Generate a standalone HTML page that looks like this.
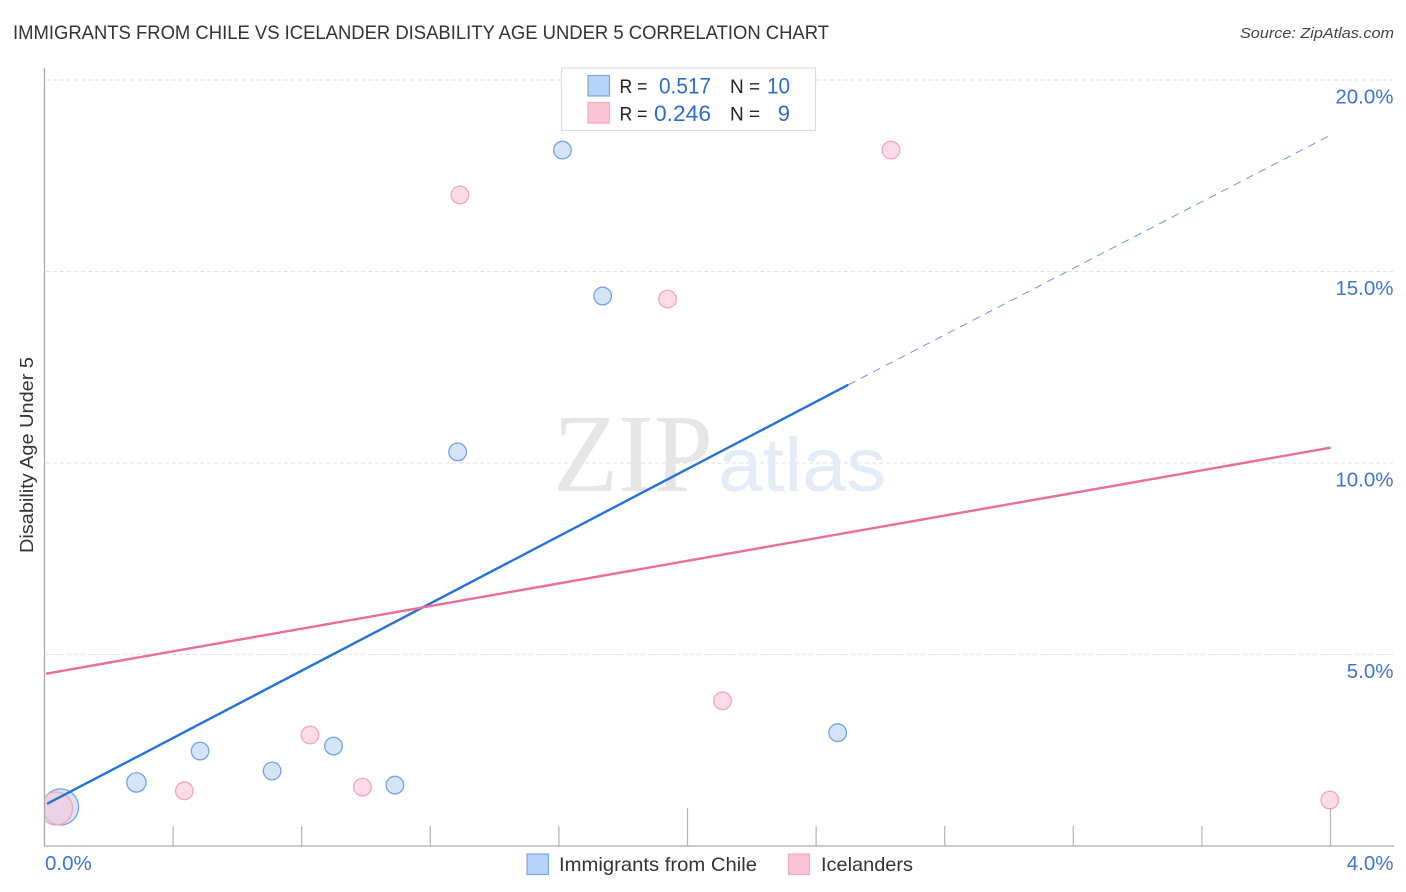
<!DOCTYPE html>
<html lang="en">
<head>
<meta charset="utf-8">
<title>Immigrants from Chile vs Icelander Disability Age Under 5 Correlation Chart</title>
<style>
html,body{margin:0;padding:0;background:#fff;}
svg{display:block;font-family:"Liberation Sans",sans-serif;}
</style>
</head>
<body>
<svg id="chart" xmlns="http://www.w3.org/2000/svg" width="1406" height="892" viewBox="0 0 1406 892">
  <rect x="0" y="0" width="1406" height="892" fill="#ffffff"/>
  <text x="13" y="39" font-size="19.5" fill="#333333" textLength="816" lengthAdjust="spacingAndGlyphs">IMMIGRANTS FROM CHILE VS ICELANDER DISABILITY AGE UNDER 5 CORRELATION CHART</text>
  <text x="1394" y="38" font-size="15" font-style="italic" fill="#444444" text-anchor="end" textLength="154" lengthAdjust="spacingAndGlyphs">Source: ZipAtlas.com</text>
  <g id="grid"></g>
  <g>
    <text x="553" y="491" font-family="'Liberation Serif',serif" font-size="111" fill="#e6e6e6" textLength="160" lengthAdjust="spacingAndGlyphs">ZIP</text>
    <text x="718" y="491" font-size="76" fill="#e3ecf9" textLength="168" lengthAdjust="spacingAndGlyphs">atlas</text>
  </g>
  <g id="points"></g>
  <g id="trends"></g>
  <rect x="0" y="770" width="44.5" height="70" fill="#ffffff"/>
  <g id="axes"></g>
  <g id="tick-labels"></g>
  <text transform="translate(33,455) rotate(-90)" font-size="18.5" fill="#333333" text-anchor="middle" textLength="196" lengthAdjust="spacingAndGlyphs">Disability Age Under 5</text>
  <g>
    <rect x="561.5" y="68" width="254" height="62.5" fill="#ffffff" stroke="#dcdcdc" stroke-width="1.2"/>
    <rect x="588" y="75.5" width="21.5" height="20.5" fill="#b7d3f7" stroke="#7ba7e2" stroke-width="1.2"/>
    <rect x="588" y="102.5" width="21.5" height="20.5" fill="#fcc5d6" stroke="#f3a9c0" stroke-width="1.2"/>
    <text x="619.5" y="93" font-size="19" fill="#222222" textLength="28" lengthAdjust="spacingAndGlyphs">R =</text>
    <text x="711" y="93.5" font-size="22" fill="#2f6bce" text-anchor="end" textLength="52" lengthAdjust="spacingAndGlyphs">0.517</text>
    <text x="730" y="93" font-size="19" fill="#222222">N =</text>
    <text x="790" y="93.5" font-size="22" fill="#2f6bce" text-anchor="end" textLength="23" lengthAdjust="spacingAndGlyphs">10</text>
    <text x="619.5" y="120.5" font-size="19" fill="#222222" textLength="28" lengthAdjust="spacingAndGlyphs">R =</text>
    <text x="711" y="121" font-size="22" fill="#2f6bce" text-anchor="end" textLength="57" lengthAdjust="spacingAndGlyphs">0.246</text>
    <text x="730" y="120.5" font-size="19" fill="#222222">N =</text>
    <text x="790" y="121" font-size="22" fill="#2f6bce" text-anchor="end">9</text>
  </g>
  <g>
    <rect x="527" y="854" width="21.5" height="20.5" fill="#b7d3f7" stroke="#7ba7e2" stroke-width="1.2"/>
    <text x="559" y="871" font-size="19.5" fill="#333333" textLength="198" lengthAdjust="spacingAndGlyphs">Immigrants from Chile</text>
    <rect x="788.5" y="854" width="21" height="20.5" fill="#fcc5d6" stroke="#f3a9c0" stroke-width="1.2"/>
    <text x="821" y="871" font-size="19.5" fill="#333333" textLength="92" lengthAdjust="spacingAndGlyphs">Icelanders</text>
  </g>
</svg>
<script>
// Chart data (percent values)
const yTickValues = [5, 10, 15, 20];
const yTickLabels = ['5.0%', '10.0%', '15.0%', '20.0%'];
const xTickValues = [0.4, 0.8, 1.2, 1.6, 2.0, 2.4, 2.8, 3.2, 3.6, 4.0];
const xMajorTicks = [2.0, 4.0];
const xEndLabels = ['0.0%', '4.0%'];
const xEndValues = [0, 4];

const chileX = [0.05, 0.286, 0.484, 0.708, 0.899, 1.09, 1.285, 1.611, 1.736, 2.467];
const chileY = [1.02, 1.66, 2.48, 1.96, 2.61, 1.59, 10.29, 18.17, 14.36, 2.96];
const chileWeight = [4.2, 1.2, 1, 1, 1, 1, 1, 1, 1, 1];

const icelandX = [0.036, 0.435, 0.826, 0.989, 1.292, 1.938, 2.109, 2.633, 3.998];
const icelandY = [0.98, 1.44, 2.9, 1.54, 17.0, 14.28, 3.79, 18.17, 1.2];
const icelandWeight = [3.5, 1, 1, 1, 1, 1, 1, 1, 1];

const chileTrendX = [0.008, 2.5];
const chileTrendY = [1.1, 12.04];
const chileDashX = [2.5, 4.0];
const chileDashY = [12.04, 18.56];
const icelandTrendX = [0.005, 4.0];
const icelandTrendY = [4.5, 10.4];

// Axis functions
const xPos = v => 44.5 + v * 321.5;
const yPos = v => 846 - v * 38.3;
const radius = w => 8.8 * Math.sqrt(w);

const NS = 'http://www.w3.org/2000/svg';
function make(parent, tag, attrs, text) {
  const el = document.createElementNS(NS, tag);
  for (const k in attrs) el.setAttribute(k, attrs[k]);
  if (text !== undefined) el.textContent = text;
  document.getElementById(parent).appendChild(el);
  return el;
}

// Gridlines
yTickValues.forEach(v => {
  const el = make('grid', 'line', {x1: 46, x2: 1393, y1: yPos(v), y2: yPos(v), stroke: '#e2e2e2', 'stroke-width': 1, 'stroke-dasharray': '4 3'});
  
  
});

// Axes
const yAxis = make('axes', 'line', {x1: 44.5, x2: 44.5, y1: 68, y2: 846.5, stroke: '#aaaaaa', 'stroke-width': 1.3});


const xAxis = make('axes', 'line', {x1: 44, x2: 1394, y1: 846, y2: 846, stroke: '#aaaaaa', 'stroke-width': 1.3});


xTickValues.forEach(v => {
  const top = xMajorTicks.includes(v) ? 808 : 826;
  const el = make('axes', 'line', {x1: xPos(v), x2: xPos(v), y1: top, y2: 846, stroke: '#b4b4b4', 'stroke-width': 1.2});
  
  
});

// Tick labels
yTickValues.forEach((v, i) => {
  const el = make('tick-labels', 'text', {x: 1393.5, y: yPos(v) + 23.5, 'font-size': 20.5, fill: '#3d74d2', 'text-anchor': 'end'}, yTickLabels[i]);
  
  
});
xEndValues.forEach((v, i) => {
  const el = make('tick-labels', 'text', {
    x: i === 0 ? 45 : 1393.5, y: 870, 'font-size': 20.5, fill: '#3d74d2',
    'text-anchor': i === 0 ? 'start' : 'end'
  }, xEndLabels[i]);
  
  
});

// Trend lines
const chileSolid = make('trends', 'line', {x1: xPos(chileTrendX[0]), y1: yPos(chileTrendY[0]), x2: xPos(chileTrendX[1]), y2: yPos(chileTrendY[1]), stroke: '#2472dc', 'stroke-width': 2.4});


const chileDash = make('trends', 'line', {x1: xPos(chileDashX[0]), y1: yPos(chileDashY[0]), x2: xPos(chileDashX[1]), y2: yPos(chileDashY[1]), stroke: '#6f97dc', 'stroke-width': 1, 'stroke-dasharray': '8 6'});


const icelandLine = make('trends', 'line', {x1: xPos(icelandTrendX[0]), y1: yPos(icelandTrendY[0]), x2: xPos(icelandTrendX[1]), y2: yPos(icelandTrendY[1]), stroke: '#ec6d9c', 'stroke-width': 2.4});



// Points
chileX.forEach((v, i) => {
  const el = make('points', 'circle', {cx: xPos(v), cy: yPos(chileY[i]), r: radius(chileWeight[i]), fill: '#b7d3f7', 'fill-opacity': 0.6, stroke: '#74a3e4', 'stroke-width': 1.3});
  
  
});
icelandX.forEach((v, i) => {
  const el = make('points', 'circle', {cx: xPos(v), cy: yPos(icelandY[i]), r: radius(icelandWeight[i]), fill: '#fcc5d6', 'fill-opacity': 0.6, stroke: '#f0a6bf', 'stroke-width': 1.3});
  
  
});
</script>
</body>
</html>
